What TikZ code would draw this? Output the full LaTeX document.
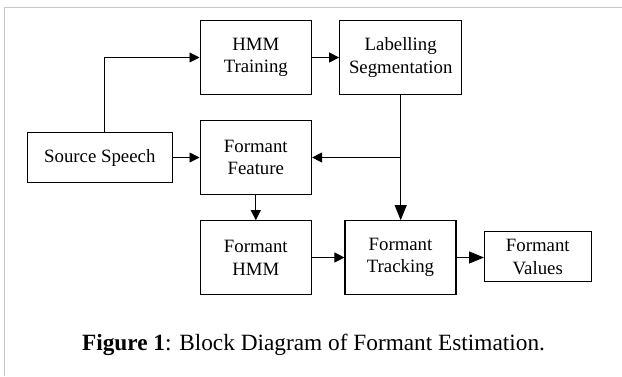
\documentclass[tikz,border=0pt]{standalone}
\usepackage{fontspec}
\setmainfont{Liberation Serif}
\usetikzlibrary{arrows.meta}
\begin{document}
\begin{tikzpicture}[x=1pt,y=-1pt,
  blk/.style={draw, line width=1.1pt, inner sep=0pt, align=center,
    font=\fontsize{18.8}{22.7}\selectfont},
  conn/.style={line width=0.9pt, -{Triangle[length=10pt,width=10pt]}},
  bigconn/.style={line width=0.9pt, -{Triangle[length=15pt,width=12pt]}}]
\useasboundingbox (0,0) rectangle (622,376);
\fill[white] (0,0) rectangle (622,376);
\draw[color={rgb,255:red,200;green,200;blue,200}, line width=1.2pt]
  (4.7,376) -- (4.7,7.3) -- (622,7.3);

\node[blk, minimum width=145pt, minimum height=50.4pt] (src) at (99.8,157.5) {Source Speech};
\node[blk, minimum width=111.5pt, minimum height=73.6pt] (hmm) at (255.8,57.5) {HMM\\Training};
\node[blk, minimum width=122pt, minimum height=73.6pt] (lab) at (400.7,57.5) {Labelling\\Segmentation};
\node[blk, minimum width=111.5pt, minimum height=73.6pt] (feat) at (255.8,157.5) {Formant\\Feature};
\node[blk, minimum width=111.5pt, minimum height=73.6pt] (fhmm) at (255.8,257.5) {Formant\\HMM};
\node[blk, minimum width=111pt, minimum height=73.6pt] (trk) at (400.5,257.5) {Formant\\Tracking};
\node[blk, minimum width=106.5pt, minimum height=50pt] (val) at (537.8,256.7) {Formant\\Values};

\draw[conn] ([xshift=4.2pt]src.north) |- (hmm.west);
\draw[conn] (src.east) -- (feat.west);
\draw[conn] (hmm.east) -- (lab.west);
\draw[bigconn] (lab.south) -- (lab.south |- trk.north);
\coordinate (j) at (lab.south |- feat.east);
\draw[conn] (j) -- (feat.east);
\draw[conn] (feat.south) -- (fhmm.north);
\draw[conn] (fhmm.east) -- (trk.west);
\draw[bigconn] (trk.east) -- (trk.east -| val.west);

\node[font=\fontsize{23.3}{28}\selectfont, inner sep=0pt] (cap) at (313.5,345)
  {\textbf{Figure 1}: Block Diagram of Formant Estimation.};
\end{tikzpicture}
\end{document}
